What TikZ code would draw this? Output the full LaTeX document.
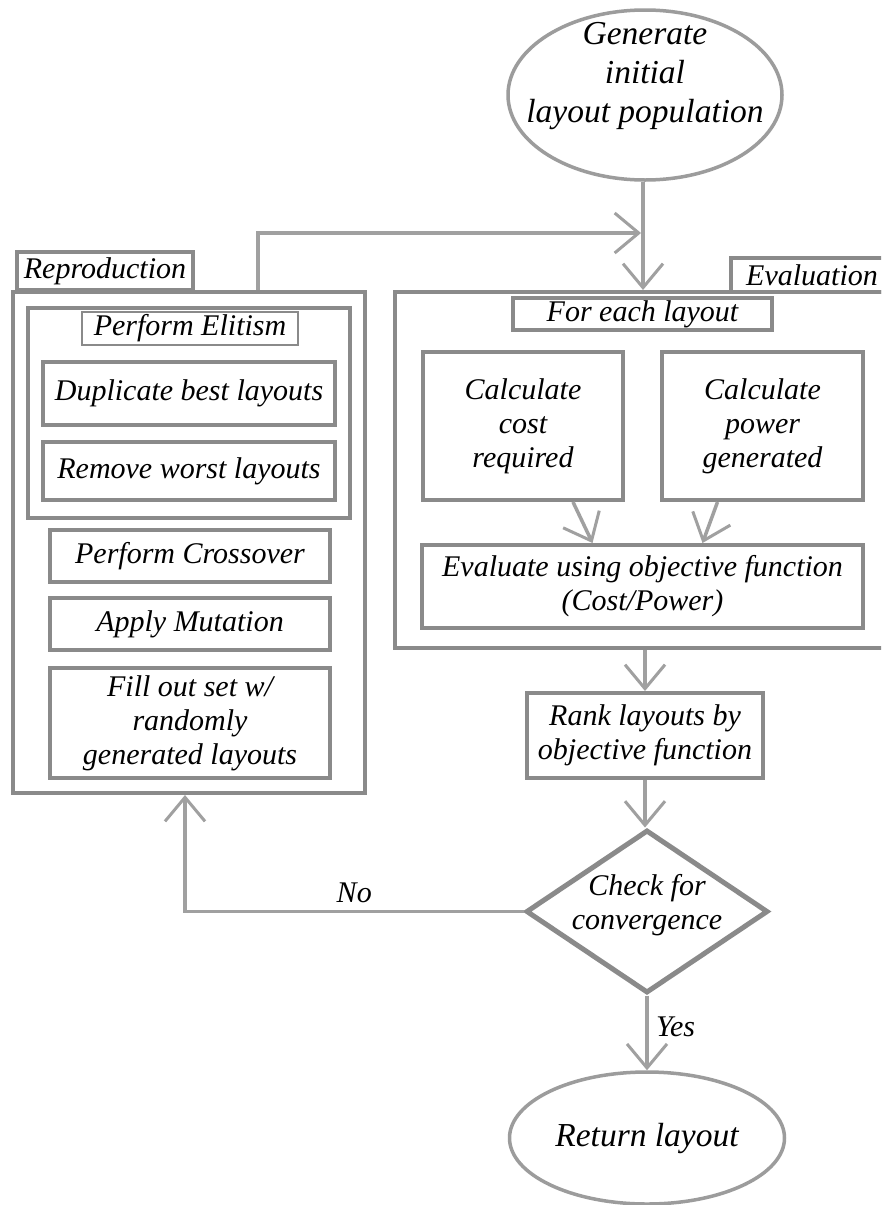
\documentclass[tikz,border=0pt]{standalone}
\usepackage{fontspec}
\setmainfont{Liberation Serif}
\usetikzlibrary{shapes.geometric,arrows.meta}
\definecolor{frame}{HTML}{8A8A8A}
\definecolor{conn}{HTML}{A0A0A0}
\tikzset{
  txt/.style={font=\fontsize{30}{34}\selectfont\itshape, align=center, text=black},
  bigtxt/.style={font=\fontsize{33.5}{39}\selectfont\itshape, align=center, text=black},
  box/.style={txt, draw=frame, line width=4pt, rectangle, inner sep=0pt},
  thinbox/.style={txt, draw=frame, line width=1.8pt, rectangle, inner sep=0pt},
  oval/.style={bigtxt, draw=frame!85, line width=3.5pt, ellipse, inner sep=0pt},
  decide/.style={draw=frame, line width=5pt, diamond, inner sep=0pt},
  connector/.style={draw=conn, line width=3.5pt, -{Straight Barb[length=24pt,width=40pt,line width=3pt]}},
}
\begin{document}
\begin{tikzpicture}[x=1pt,y=-1pt]
\useasboundingbox (0,0) rectangle (881,1205);
\clip (0,0) rectangle (881,1205);
\fill[white] (0,0) rectangle (881,1205);

% start
\node[oval, minimum width=274pt, minimum height=170pt,
  label={[name=gentxt, bigtxt, yshift=19pt]center:Generate\\initial\\layout population}] (gen) at (645,95) {};

% reproduction group
\node[box, minimum width=352pt, minimum height=501pt] (repro) at (189,542.5) {};
\node[box, minimum width=176pt, minimum height=38pt] (reprolbl) at (105,271) {Reproduction};
\node[box, minimum width=322pt, minimum height=210pt] (elit) at (189,413) {};
\node[thinbox, minimum width=216pt, minimum height=33pt] (elitlbl) at (190,328.5) {Perform Elitism};
\node[box, minimum width=292pt, minimum height=63pt] (dup) at (189,393.5) {Duplicate best layouts};
\node[box, minimum width=292pt, minimum height=58pt] (rem) at (189,471) {Remove worst layouts};
\node[box, minimum width=280pt, minimum height=52pt] (cross) at (190,556) {Perform Crossover};
\node[box, minimum width=280pt, minimum height=52pt] (mut) at (190,624) {Apply Mutation};
\node[box, minimum width=280pt, minimum height=110pt] (fill) at (190,723) {Fill out set w/\\randomly\\generated layouts};

% evaluation group
\node[box, minimum width=496pt, minimum height=356pt] (eval) at (643,470) {};
\node[box, minimum width=162pt, minimum height=34pt] (evallbl) at (812,275) {Evaluation};
\node[box, minimum width=259pt, minimum height=32pt] (foreach) at (642.5,314) {For each layout};
\node[box, minimum width=200pt, minimum height=148pt] (cost) at (523,426) {Calculate\\cost\\required};
\node[box, minimum width=201pt, minimum height=148pt] (power) at (762.5,426) {Calculate\\power\\generated};
\node[box, minimum width=441pt, minimum height=83pt] (evalfn) at (642.5,586.5) {Evaluate using objective function\\(Cost/Power)};

% ranking and decision
\node[box, minimum width=236pt, minimum height=85pt] (rank) at (645,735.5) {Rank layouts by\\objective function};
\node[decide, minimum width=242pt, minimum height=163pt,
  label={[name=checktxt, txt, yshift=6pt]center:Check for\\convergence}] (check) at (647,911.5) {};
\node[oval, minimum width=275pt, minimum height=132pt] (ret) at (647,1138) {Return layout};

% connectors
\coordinate (merge) at (641,233);
\draw[connector] (eval.north |- gen.south) -- (eval.north);
\draw[connector] ([xshift=69pt]repro.north) |- (merge);
\draw[connector] ([xshift=50pt]cost.south) -- ([xshift=-50pt]evalfn.north);
\draw[connector] ([xshift=-45pt]power.south) -- ([xshift=60pt]evalfn.north);
\draw[connector] (rank.north |- eval.south) -- (rank.north);
\draw[connector] (rank.south) -- (check.north -| rank.south);
\draw[connector] (check.south) -- (ret.north)
  node[txt, pos=0.42, anchor=west, xshift=4pt] (yeslbl) {Yes};
\draw[connector] (check.west) -| ([xshift=-4pt]repro.south)
  node[txt, pos=0.25, anchor=south, yshift=4pt] (nolbl) {No};
\end{tikzpicture}
\end{document}
